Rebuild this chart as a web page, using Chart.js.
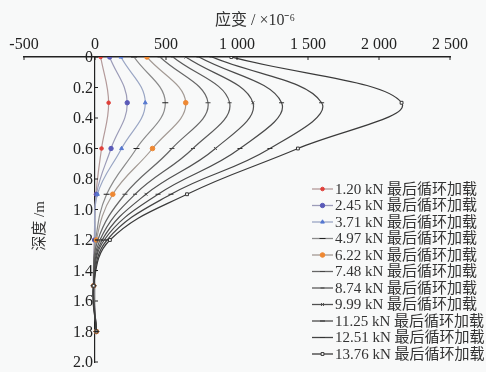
<!DOCTYPE html>
<html>
<head>
<meta charset="utf-8">
<script src="https://cdn.jsdelivr.net/npm/chart.js@4.4.0/dist/chart.umd.min.js"></script>
<style>
html, body { margin: 0; padding: 0; background: #f8f9f9; }
</style>
</head>
<body>
<canvas id="strainChart" width="486" height="372"></canvas>
<script>
// depth of the gauges (m)
const depths = [0, 0.3, 0.6, 0.9, 1.2, 1.5, 1.8];

// strain (x10^-6) per load step, last cycle
const s120 = [40, 96, 46, 7, -5, -10, 10];
const s245 = [103, 227, 113, 10, -3, -10, 10];
const s371 = [183, 354, 187, 17, 0, -10, 10];
const s497 = [275, 495, 292, 82, 5, -10, 10];
const s622 = [366, 639, 405, 125, 10, -10, 10];
const s748 = [458, 796, 542, 211, 20, -10, 10];
const s874 = [549, 948, 690, 282, 35, -10, 10];
const s999 = [640, 1112, 848, 359, 50, -10, 10];
const s1125 = [732, 1314, 1021, 444, 65, -10, 10];
const s1251 = [824, 1596, 1232, 535, 85, -10, 10];
const s1376 = [960, 2159, 1429, 648, 105, -10, 10];

const loads = ['1.20', '2.45', '3.71', '4.97', '6.22', '7.48', '8.74', '9.99', '11.25', '12.51', '13.76'];
const xTicks = [-500, 0, 500, 1000, 1500, 2000, 2500];
const yTicks = [0, 0.2, 0.4, 0.6, 0.8, 1.0, 1.2, 1.4, 1.6, 1.8, 2.0];

const series = [s120, s245, s371, s497, s622, s748, s874, s999, s1125, s1251, s1376];
const lineColors = ['#b39a9a', '#9c9cb8', '#9aa6c4', '#8a8a8a', '#a39a94', '#666', '#5a5a5a', '#505050', '#4a4a4a', '#454545', '#3a3a3a'];
const markColors = ['#e0403a', '#5a5ab8', '#5577d0', '#222', '#ee8833', '#444', '#444', '#444', '#333', '#333', '#333'];
const markStyles = ['circle', 'circle', 'triangle', 'line', 'circle', 'line', 'line', 'crossRot', 'line', 'line', 'rect'];
const markSizes = [1.8, 2.2, 2.2, 3, 2.3, 2.5, 2, 2, 2.5, 2.5, 2];

const datasets = series.map((vals, i) => ({
    label: loads[i] + ' kN 最后循环加载',
    data: vals.map((v, j) => ({ x: v, y: depths[j] })),
    order: series.length - i,
    borderColor: lineColors[i],
    borderWidth: 1.2,
    tension: 0.4,
    pointStyle: markStyles[i],
    pointRadius: markSizes[i],
    pointBackgroundColor: markStyles[i] === 'rect' ? '#fff' : markColors[i],
    pointBorderColor: markColors[i],
    pointBorderWidth: 1
}));

const serif = "'Liberation Serif', 'Noto Sans CJK SC', serif";

const extras = {
    id: 'extras',
    afterDraw(chart) {
        const ctx = chart.ctx;
        const xs = chart.scales.x, ys = chart.scales.y;
        const x0 = xs.getPixelForValue(0);
        ctx.save();
        ctx.strokeStyle = '#222';
        ctx.lineWidth = 1;
        // small inward ticks
        xTicks.forEach(v => {
            const px = xs.getPixelForValue(v);
            ctx.beginPath(); ctx.moveTo(px, ys.top); ctx.lineTo(px, ys.top + 3); ctx.stroke();
        });
        yTicks.forEach(v => {
            const py = ys.getPixelForValue(v);
            ctx.beginPath(); ctx.moveTo(x0, py); ctx.lineTo(x0 + 3, py); ctx.stroke();
        });
        // y tick labels, right of them is the axis at x = 0
        ctx.fillStyle = '#222';
        ctx.font = '16px ' + serif;
        ctx.textAlign = 'right';
        ctx.textBaseline = 'middle';
        yTicks.forEach(v => {
            ctx.fillText(v === 0 ? '0' : v.toFixed(1), x0 - 2, ys.getPixelForValue(v) + 1);
        });
        // x title
        ctx.fillStyle = '#333';
        ctx.textAlign = 'center';
        ctx.fillText('应变 / ×10⁻⁶', 255, 21);
        // y title
        ctx.font = '15px ' + serif;
        ctx.translate(40, 226);
        ctx.rotate(-Math.PI / 2);
        ctx.fillText('深度 /m', 0, 0);
        ctx.restore();

        // legend
        ctx.save();
        ctx.font = '15px ' + serif;
        ctx.textAlign = 'left';
        ctx.textBaseline = 'middle';
        chart.data.datasets.forEach((ds, i) => {
            const y = 189 + i * 16.5;
            ctx.strokeStyle = ds.borderColor;
            ctx.lineWidth = 1.3;
            ctx.beginPath(); ctx.moveTo(312, y); ctx.lineTo(333, y); ctx.stroke();
            ctx.fillStyle = ds.pointBackgroundColor;
            ctx.strokeStyle = ds.pointBorderColor;
            ctx.lineWidth = 1;
            Chart.helpers.drawPoint(ctx, { pointStyle: ds.pointStyle, radius: ds.pointRadius, rotation: 0, borderWidth: 1 }, 322.5, y);
            ctx.fillStyle = '#333';
            ctx.fillText(ds.label, 335, y + 1);
        });
        ctx.restore();
    }
};

const ctxStrain = document.getElementById('strainChart').getContext('2d');
const strainChart = new Chart(ctxStrain, {
    type: 'line',
    data: { datasets: datasets },
    options: {
        responsive: false,
        animation: false,
        layout: { padding: { left: 24, right: 36, top: 0, bottom: 10 } },
        plugins: { legend: { display: false }, tooltip: { enabled: false } },
        scales: {
            x: {
                type: 'linear',
                position: 'top',
                min: -500,
                max: 2500,
                afterBuildTicks: s => { s.ticks = xTicks.map(v => ({ value: v })); },
                afterFit: s => { s.height = 57; },
                ticks: {
                    color: '#222',
                    padding: 3,
                    font: { family: serif, size: 16 },
                    callback: v => v >= 1000 ? String(v).replace(/(\d)(\d{3})$/, '$1 $2') : String(v)
                },
                grid: { display: false, drawTicks: false },
                border: { display: true, color: '#222', width: 1.5 }
            },
            y: {
                type: 'linear',
                position: { x: 0 },
                reverse: true,
                min: 0,
                max: 2,
                afterBuildTicks: s => { s.ticks = yTicks.map(v => ({ value: v })); },
                ticks: { display: false },
                grid: { display: false, drawTicks: false },
                border: { display: true, color: '#222', width: 1.2 }
            }
        }
    },
    plugins: [extras]
});
</script>
</body>
</html>
